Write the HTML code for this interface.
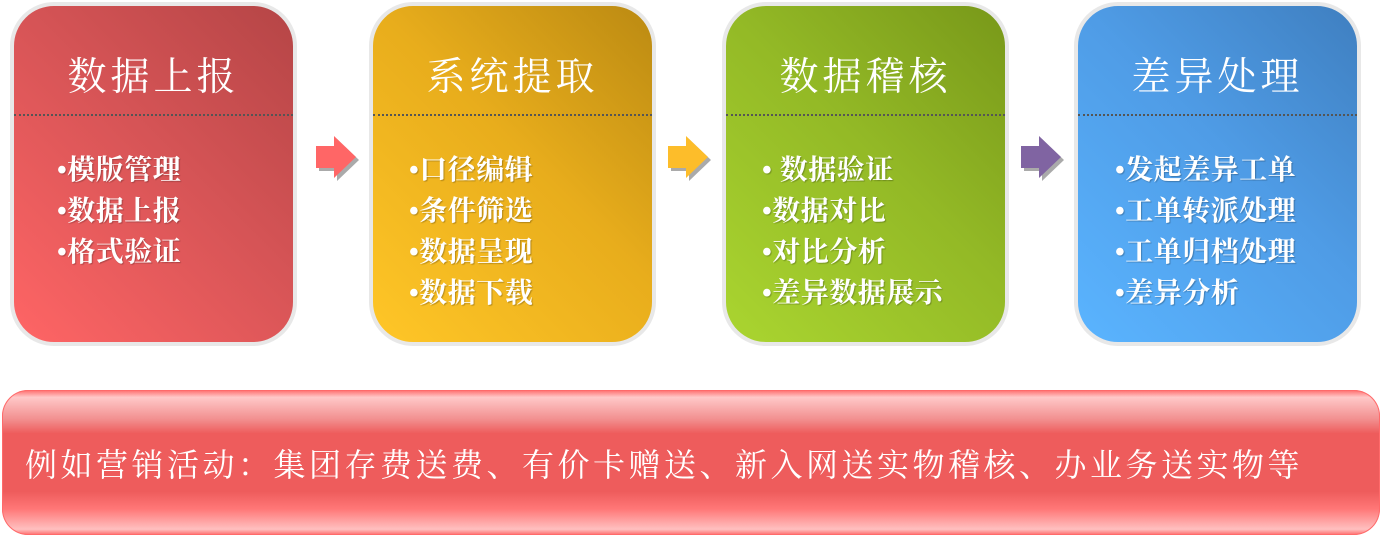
<!DOCTYPE html>
<html><head><meta charset="utf-8"><style>
body{margin:0;width:1382px;height:539px;background:#fff;position:relative;overflow:hidden;font-family:"Liberation Serif","Noto Serif CJK SC","Noto Sans CJK SC",serif;color:#fff}
.box{position:absolute;top:2px;width:279px;height:336px;border:4px solid #e8e8e8;border-radius:44px;box-sizing:content-box}
.box h1{margin:0;position:absolute;top:49px;width:100%;text-align:center;font-weight:normal;font-size:39px;letter-spacing:4px;line-height:46px}
.box .dot{position:absolute;top:108px;left:0;right:0;border-top:2px dotted #555}
.box ul{list-style:none;margin:0;padding:0;position:absolute;top:144px;font-size:28px;line-height:41px;font-weight:bold;letter-spacing:0.5px;text-shadow:1px 1px 1px rgba(0,0,0,.25)}
.arr{position:absolute;top:135px;width:44px;height:48px}
.bar{position:absolute;left:2px;top:390px;width:1378px;height:145px;border-radius:26px;background:linear-gradient(#ff6a6a 0,#ffc8c8 5%,#f29090 20%,#ee5c5c 30%,#ee5c5c 70%,#f77 82%,#ffc0c0 96%,#ff6a6a 100%);box-shadow:0 0 0 1px #ff6a6a inset}
.bar span{position:absolute;left:23px;top:54px;font-size:32px;line-height:42px;letter-spacing:3.5px;white-space:nowrap}
</style></head><body>
<div class="box" style="left:10px;background:linear-gradient(45deg,#ff6565,#d65456 55%,#b54546)">
<h1>数据上报</h1><div class="dot"></div>
<ul style="left:43px"><li>•模版管理</li><li>•数据上报</li><li>•格式验证</li></ul></div>
<div class="box" style="left:369px;background:linear-gradient(45deg,#ffc627,#e8ad1c 55%,#bb8a12)">
<h1>系统提取</h1><div class="dot"></div>
<ul style="left:36px"><li>•口径编辑</li><li>•条件筛选</li><li>•数据呈现</li><li>•数据下载</li></ul></div>
<div class="box" style="left:722px;background:linear-gradient(45deg,#aad530,#93b926 55%,#789819)">
<h1>数据稽核</h1><div class="dot"></div>
<ul style="left:36px"><li>• 数据验证</li><li>•数据对比</li><li>•对比分析</li><li>•差异数据展示</li></ul></div>
<div class="box" style="left:1074px;background:linear-gradient(45deg,#5ab4ff,#4f9ce6 55%,#3f7fc0)">
<h1>差异处理</h1><div class="dot"></div>
<ul style="left:37px"><li>•发起差异工单</li><li>•工单转派处理</li><li>•工单归档处理</li><li>•差异分析</li></ul></div>
<svg class="arr" style="left:315px" viewBox="0 0 44 48"><polygon points="4,14 22,14 22,4 44,25 22,46 22,36 4,36" fill="#aaa"/><polygon points="1,11 19,11 19,1 41,22 19,43 19,33 1,33" fill="#ff6666"/></svg>
<svg class="arr" style="left:667px" viewBox="0 0 44 48"><polygon points="4,14 22,14 22,4 44,25 22,46 22,36 4,36" fill="#aaa"/><polygon points="1,11 19,11 19,1 41,22 19,43 19,33 1,33" fill="#fdbd2a"/></svg>
<svg class="arr" style="left:1020px" viewBox="0 0 44 48"><polygon points="4,14 22,14 22,4 44,25 22,46 22,36 4,36" fill="#aaa"/><polygon points="1,11 19,11 19,1 41,22 19,43 19,33 1,33" fill="#8064a2"/></svg>
<div class="bar"><span>例如营销活动：集团存费送费、有价卡赠送、新入网送实物稽核、办业务送实物等</span></div>
</body></html>
